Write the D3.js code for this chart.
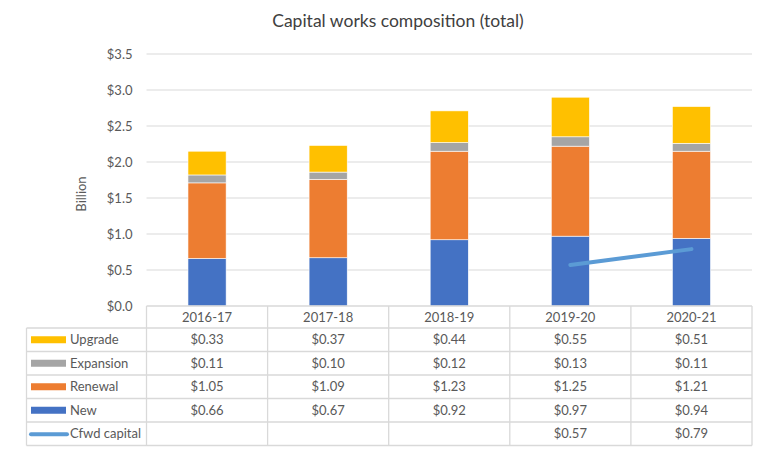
<!DOCTYPE html>
<html><head><meta charset="utf-8">
<script src="https://cdn.jsdelivr.net/npm/d3@7/dist/d3.min.js"></script>
<style>body{margin:0;background:#fff}svg{display:block}text{font-family:Lato,"Open Sans",sans-serif;fill:#595959}</style>
</head><body><svg id="c" width="760" height="453"></svg>
<script>
const categories = ["2016-17","2017-18","2018-19","2019-20","2020-21"];
const newVals = [0.66,0.67,0.92,0.97,0.94];
const renewalVals = [1.05,1.09,1.23,1.25,1.21];
const expansionVals = [0.11,0.10,0.12,0.13,0.11];
const upgradeVals = [0.33,0.37,0.44,0.55,0.51];
const cfwdVals = [null,null,null,0.57,0.79];
const yTicks = [0,0.5,1.0,1.5,2.0,2.5,3.0,3.5];

const seriesDefs = [
  {key:"New", vals:newVals, color:"#4472C4"},
  {key:"Renewal", vals:renewalVals, color:"#ED7D31"},
  {key:"Expansion", vals:expansionVals, color:"#A5A5A5"},
  {key:"Upgrade", vals:upgradeVals, color:"#FFC000"}
];
const lineColor = "#5B9BD5";

const svg = d3.select("#c");
const L = 146.5, R = 752, T = 54, B = 306;
const x = d3.scaleBand().domain(categories).range([L,R]).paddingInner(0.685).paddingOuter(0.3425);
const xc = d3.scaleBand().domain(categories).range([L,R]);
const y = d3.scaleLinear().domain([0,3.5]).range([B,T]);

svg.append("text").attr("x",398).attr("y",27).attr("text-anchor","middle")
  .style("font-size","17.5px").style("fill","#404040").text("Capital works composition (total)");

// gridlines
svg.append("g").selectAll("line").data(yTicks.filter(d=>d>0)).join("line")
  .attr("x1",L).attr("x2",R).attr("y1",d=>y(d)).attr("y2",d=>y(d))
  .attr("stroke","#D9D9D9").attr("stroke-width",1.2);

// y axis labels
const yAxis = d3.axisLeft(y).tickValues(yTicks).tickFormat(d=>"$"+d3.format(".1f")(d)).tickSize(0).tickPadding(14);
const ga = svg.append("g").attr("transform",`translate(${L},0)`).call(yAxis);
ga.select(".domain").remove();
ga.selectAll("text").style("font-size","13px").style("fill","#595959").style("font-family","Lato,'Open Sans',sans-serif");

svg.append("text").attr("transform","translate(86,194) rotate(-90)").attr("text-anchor","middle")
  .style("font-size","13px").text("Billion");

// stacked bars
const rows = categories.map((c,i)=>{const o={cat:c};seriesDefs.forEach(s=>o[s.key]=s.vals[i]);return o;});
const stack = d3.stack().keys(seriesDefs.map(s=>s.key))(rows);
svg.append("g").selectAll("g").data(stack).join("g")
  .attr("fill",(d,i)=>seriesDefs[i].color)
  .selectAll("rect").data(d=>d).join("rect")
  .attr("x",d=>x(d.data.cat)).attr("width",x.bandwidth())
  .attr("y",d=>y(d[1])).attr("height",d=>y(d[0])-y(d[1]))
  .attr("stroke","#fff").attr("stroke-width",0.6);

// cfwd line
const lineData = categories.map((c,i)=>({c,v:cfwdVals[i]})).filter(d=>d.v!=null);
svg.append("path").datum(lineData)
  .attr("d",d3.line().x(d=>xc(d.c)+xc.bandwidth()/2).y(d=>y(d.v)))
  .attr("fill","none").attr("stroke",lineColor).attr("stroke-width",4).attr("stroke-linecap","round");

// table
const rowH = 23.5, headTop = 306, headH = 22;
const tableRows = [
  {label:"Upgrade", vals:upgradeVals, color:"#FFC000", type:"rect"},
  {label:"Expansion", vals:expansionVals, color:"#A5A5A5", type:"rect"},
  {label:"Renewal", vals:renewalVals, color:"#ED7D31", type:"rect"},
  {label:"New", vals:newVals, color:"#4472C4", type:"rect"},
  {label:"Cfwd capital", vals:cfwdVals, color:lineColor, type:"line"}
];
const tLeft = 26.5;
const tg = svg.append("g");
const bc = "#D9D9D9", bw = 1.3;
const rowTop = i => headTop + headH + i*rowH;
const tBottom = rowTop(tableRows.length);
tg.append("line").attr("x1",L).attr("x2",R).attr("y1",headTop).attr("y2",headTop).attr("stroke",bc).attr("stroke-width",bw);
for(let i=0;i<=tableRows.length;i++){
  tg.append("line").attr("x1",tLeft).attr("x2",R).attr("y1",rowTop(i)).attr("y2",rowTop(i)).attr("stroke",bc).attr("stroke-width",bw);
}
tg.append("line").attr("x1",tLeft).attr("x2",tLeft).attr("y1",rowTop(0)).attr("y2",tBottom).attr("stroke",bc).attr("stroke-width",bw);
categories.forEach(c=>{
  tg.append("line").attr("x1",xc(c)).attr("x2",xc(c)).attr("y1",headTop).attr("y2",tBottom).attr("stroke",bc).attr("stroke-width",bw);
});
tg.append("line").attr("x1",R).attr("x2",R).attr("y1",headTop).attr("y2",tBottom).attr("stroke",bc).attr("stroke-width",bw);
tg.selectAll("text.h").data(categories).join("text").attr("class","h")
  .attr("x",d=>xc(d)+xc.bandwidth()/2).attr("y",headTop+headH/2+4.5).attr("text-anchor","middle")
  .style("font-size","13px").text(d=>d);
tableRows.forEach((r,i)=>{
  const cy = rowTop(i)+rowH/2;
  if(r.type==="rect"){
    tg.append("rect").attr("x",31).attr("y",cy-3.5).attr("width",35).attr("height",7).attr("fill",r.color);
  } else {
    tg.append("line").attr("x1",31).attr("x2",67).attr("y1",cy+0.5).attr("y2",cy+0.5).attr("stroke",r.color).attr("stroke-width",4).attr("stroke-linecap","round");
  }
  tg.append("text").attr("x",70).attr("y",cy+4.5).style("font-size","13px").text(r.label);
  categories.forEach((c,j)=>{
    if(r.vals[j]==null) return;
    tg.append("text").attr("x",xc(c)+xc.bandwidth()/2).attr("y",cy+4.5).attr("text-anchor","middle")
      .style("font-size","13px").text("$"+d3.format(".2f")(r.vals[j]));
  });
});
</script></body></html>
